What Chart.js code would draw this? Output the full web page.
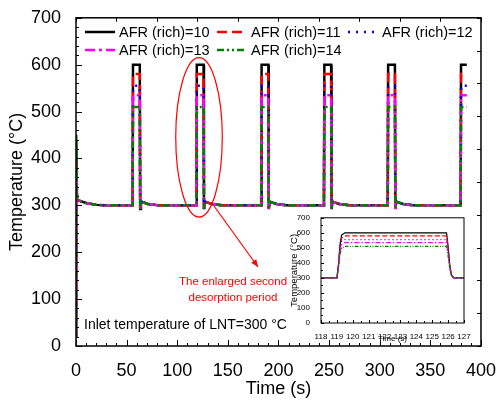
<!DOCTYPE html>
<html>
<head>
<meta charset="utf-8">
<script src="https://cdn.jsdelivr.net/npm/chart.js@4"></script>
<style>
  body { margin: 0; background: #fff; }
  #wrap { position: relative; width: 502px; height: 401px; }
  #main { position: absolute; left: 0; top: 0; }
  #inset { position: absolute; left: 283px; top: 210px; }
</style>
</head>
<body>
<div id="wrap">
  <canvas id="main" width="502" height="401"></canvas>
  <canvas id="inset" width="190" height="136"></canvas>
</div>
<script>
// main chart data
const seriesLabels = ['AFR (rich)=10', 'AFR (rich)=11', 'AFR (rich)=12', 'AFR (rich)=13', 'AFR (rich)=14'];

const timeS = [0, 0.3, 1, 3, 10, 20, 30,
  55.9, 56.3, 63, 63.4, 64.2, 71, 81,
  118.9, 119.3, 126, 126.4, 127.2, 134, 144,
  182.9, 183.3, 190, 190.4, 191.2, 198, 208,
  244.9, 245.3, 252, 252.4, 253.2, 260, 270,
  307.9, 308.3, 315, 315.4, 316.2, 323, 333,
  379.9, 380.3, 386];

const afr10 = [20, 440, 312, 310, 305, 301, 300,
  300, 600, 600, 292, 308, 303, 300,
  300, 600, 600, 292, 308, 303, 300,
  300, 600, 600, 292, 308, 303, 300,
  300, 600, 600, 292, 308, 303, 300,
  300, 600, 600, 292, 308, 303, 300,
  300, 600, 600];
const afr11 = [20, 395, 312, 310, 305, 301, 300,
  300, 580, 580, 292, 308, 303, 300,
  300, 580, 580, 292, 308, 303, 300,
  300, 580, 580, 292, 308, 303, 300,
  300, 580, 580, 292, 308, 303, 300,
  300, 580, 580, 292, 308, 303, 300,
  300, 580, 580];
const afr12 = [20, 360, 312, 310, 305, 301, 300,
  300, 555, 555, 292, 308, 303, 300,
  300, 555, 555, 292, 308, 303, 300,
  300, 555, 555, 292, 308, 303, 300,
  300, 555, 555, 292, 308, 303, 300,
  300, 555, 555, 292, 308, 303, 300,
  300, 555, 555];
const afr13 = [20, 380, 312, 310, 305, 301, 300,
  300, 535, 535, 292, 308, 303, 300,
  300, 535, 535, 292, 308, 303, 300,
  300, 535, 535, 292, 308, 303, 300,
  300, 535, 535, 292, 308, 303, 300,
  300, 535, 535, 292, 308, 303, 300,
  300, 535, 535];
const afr14 = [20, 450, 312, 310, 305, 301, 300,
  300, 510, 510, 292, 308, 303, 300,
  300, 510, 510, 292, 308, 303, 300,
  300, 510, 510, 292, 308, 303, 300,
  300, 510, 510, 292, 308, 303, 300,
  300, 510, 510, 292, 308, 303, 300,
  300, 510, 510];

// inset: second desorption period, enlarged
const insetTimeS = [118, 119.0, 119.1, 119.2, 119.3, 119.5, 125.9, 126.0, 126.1, 126.2, 126.35, 127];
const insetAfr10 = [300, 300, 390, 525, 585, 600, 600, 510, 390, 324, 300, 300];
const insetAfr11 = [300, 300, 384, 510, 566, 580, 580, 496, 384, 322, 300, 300];
const insetAfr12 = [300, 300, 377, 491, 542, 555, 555, 479, 377, 320, 300, 300];
const insetAfr13 = [300, 300, 371, 476, 523, 535, 535, 465, 371, 319, 300, 300];
const insetAfr14 = [300, 300, 363, 458, 500, 510, 510, 447, 363, 317, 300, 300];

const FONT = '"Liberation Sans", Arial, sans-serif';

const styles = [
  { color: '#000000', dash: [] },
  { color: '#ff0000', dash: [10, 5] },
  { color: '#0000ff', dash: [2, 6] },
  { color: '#ff00ff', dash: [10, 4, 3, 4] },
  { color: '#008000', dash: [7, 3, 2, 3, 2, 3] }
];

function makeSets(xs, ys, width, dashScale) {
  return ys.map((vals, i) => ({
    label: seriesLabels[i],
    data: vals.map((v, j) => ({ x: xs[j], y: v })),
    borderColor: styles[i].color,
    borderWidth: width,
    borderDash: styles[i].dash.map(d => d * dashScale),
    pointRadius: 0,
    tension: 0,
    fill: false,
    order: 5 - i
  }));
}

// frame and inward tick marks, placed through the scales
function drawFrame(chart, cfg) {
  const ctx = chart.ctx;
  const a = chart.chartArea;
  const xs = chart.scales.x, ys = chart.scales.y;
  ctx.save();
  ctx.strokeStyle = '#000';
  ctx.lineWidth = cfg.frameWidth;
  ctx.strokeRect(a.left, a.top, a.right - a.left, a.bottom - a.top);
  ctx.lineWidth = 1;
  ctx.beginPath();
  for (let v = xs.min; v <= xs.max + 1e-6; v += cfg.xMinor) {
    const px = Math.round(xs.getPixelForValue(v)) + 0.5;
    const major = Math.abs(v / cfg.xMajor - Math.round(v / cfg.xMajor)) < 1e-6;
    const len = major ? cfg.majorLen : cfg.minorLen;
    ctx.moveTo(px, a.bottom); ctx.lineTo(px, a.bottom - len);
  }
  for (let v = ys.min; v <= ys.max + 1e-6; v += cfg.yMinor) {
    const py = Math.round(ys.getPixelForValue(v)) + 0.5;
    const major = Math.abs(v / cfg.yMajor - Math.round(v / cfg.yMajor)) < 1e-6;
    const len = major ? cfg.majorLen : cfg.minorLen;
    ctx.moveTo(a.left, py); ctx.lineTo(a.left + len, py);
  }
  if (cfg.topStep) {
    for (let v = xs.min; v <= xs.max + 1e-6; v += cfg.topStep) {
      const px = Math.round(xs.getPixelForValue(v)) + 0.5;
      ctx.moveTo(px, a.top); ctx.lineTo(px, a.top + cfg.edgeLen);
    }
  }
  if (cfg.rightStep) {
    for (let v = ys.min; v <= ys.max + 1e-6; v += cfg.rightStep) {
      const py = Math.round(ys.getPixelForValue(v)) + 0.5;
      ctx.moveTo(a.right, py); ctx.lineTo(a.right - cfg.edgeLen, py);
    }
  }
  ctx.stroke();
  ctx.restore();
}

const mainDecor = {
  id: 'mainDecor',
  afterDraw(chart) {
    drawFrame(chart, { frameWidth: 1.5, xMajor: 50, xMinor: 10, yMajor: 100, yMinor: 20,
      majorLen: 6, minorLen: 3, topStep: 40, rightStep: 70, edgeLen: 4 });
    const ctx = chart.ctx;
    const xs = chart.scales.x, ys = chart.scales.y;

    // legend inside the plot
    ctx.save();
    ctx.font = '14.5px ' + FONT;
    ctx.textBaseline = 'middle';
    const slots = [[85, 32], [217, 32], [348, 32], [85, 50], [217, 50]];
    slots.forEach(([x, y], i) => {
      ctx.strokeStyle = styles[i].color;
      ctx.lineWidth = 2.5;
      ctx.setLineDash(styles[i].dash);
      ctx.beginPath();
      ctx.moveTo(x, y); ctx.lineTo(x + 30, y);
      ctx.stroke();
      ctx.setLineDash([]);
      ctx.fillStyle = '#000';
      ctx.fillText(seriesLabels[i], x + 34, y + 1);
    });

    // red ellipse around the second desorption period, with arrow
    const cx = xs.getPixelForValue(121.5), cy = ys.getPixelForValue(445);
    const rx = xs.getPixelForValue(121.5 + 23) - cx;
    const ry = cy - ys.getPixelForValue(445 + 170);
    ctx.strokeStyle = '#ff0000';
    ctx.lineWidth = 1.2;
    ctx.beginPath();
    ctx.ellipse(cx, cy, rx, ry, 0, 0, Math.PI * 2);
    ctx.stroke();
    const x0 = 214, y0 = 206, x1 = 258, y1 = 267;
    ctx.beginPath();
    ctx.moveTo(x0, y0); ctx.lineTo(x1, y1);
    ctx.stroke();
    const ang = Math.atan2(y1 - y0, x1 - x0);
    ctx.fillStyle = '#ff0000';
    ctx.beginPath();
    ctx.moveTo(x1, y1);
    ctx.lineTo(x1 - 8 * Math.cos(ang - 0.4), y1 - 8 * Math.sin(ang - 0.4));
    ctx.lineTo(x1 - 8 * Math.cos(ang + 0.4), y1 - 8 * Math.sin(ang + 0.4));
    ctx.closePath();
    ctx.fill();

    ctx.font = '11.5px ' + FONT;
    ctx.textAlign = 'center';
    ctx.fillText('The enlarged second', 233, 282);
    ctx.fillText('desorption period', 233, 298);

    ctx.fillStyle = '#000';
    ctx.textAlign = 'left';
    ctx.font = '14px ' + FONT;
    ctx.fillText('Inlet temperature of LNT=300 \u00B0C', 84, 325);
    ctx.restore();
  }
};

new Chart(document.getElementById('main'), {
  type: 'line',
  data: { datasets: makeSets(timeS, [afr10, afr11, afr12, afr13, afr14], 2.5, 1) },
  options: {
    responsive: false,
    animation: false,
    events: [],
    layout: { padding: { left: 0, right: 16, top: 17, bottom: 0 } },
    plugins: { legend: { display: false }, tooltip: { enabled: false } },
    scales: {
      x: {
        type: 'linear', min: 0, max: 400,
        grid: { display: false }, border: { display: false },
        ticks: { stepSize: 50, color: '#000', padding: 6, maxRotation: 0, font: { family: FONT, size: 18 } },
        title: { display: true, text: 'Time (s)', color: '#000', padding: { top: 0, bottom: 1 }, font: { family: FONT, size: 18 } },
        afterFit: s => { s.height = 55; }
      },
      y: {
        type: 'linear', min: 0, max: 700,
        grid: { display: false }, border: { display: false },
        ticks: { stepSize: 100, color: '#000', padding: 7, font: { family: FONT, size: 18 } },
        title: { display: true, text: 'Temperature (\u00B0C)', color: '#000', padding: { top: 6, bottom: 0 }, font: { family: FONT, size: 18 } },
        afterFit: s => { s.width = 76; }
      }
    }
  },
  plugins: [mainDecor]
});

const insetDecor = {
  id: 'insetDecor',
  beforeDraw(chart) {
    const a = chart.chartArea;
    chart.ctx.save();
    chart.ctx.fillStyle = '#fff';
    chart.ctx.fillRect(a.left, a.top, a.right - a.left, a.bottom - a.top);
    chart.ctx.restore();
  },
  afterDraw(chart) {
    drawFrame(chart, { frameWidth: 1, xMajor: 1, xMinor: 0.5, yMajor: 100, yMinor: 50,
      majorLen: 3, minorLen: 2, topStep: 0, rightStep: 0, edgeLen: 0 });
  }
};

new Chart(document.getElementById('inset'), {
  type: 'line',
  data: { datasets: makeSets(insetTimeS, [insetAfr10, insetAfr11, insetAfr12, insetAfr13, insetAfr14], 1.2, 0.5) },
  options: {
    responsive: false,
    animation: false,
    events: [],
    layout: { padding: { left: 0, right: 9, top: 7, bottom: 0 } },
    plugins: { legend: { display: false }, tooltip: { enabled: false } },
    scales: {
      x: {
        type: 'linear', min: 118, max: 127,
        grid: { display: false }, border: { display: false },
        ticks: { stepSize: 1, color: '#000', padding: 1, maxRotation: 0, autoSkip: false, font: { family: FONT, size: 8 } },
        title: { display: true, text: 'Time (s)', color: '#000', padding: { top: 0, bottom: 2 }, font: { family: FONT, size: 8 } },
        afterFit: s => { s.height = 23; }
      },
      y: {
        type: 'linear', min: 0, max: 700,
        grid: { display: false }, border: { display: false },
        ticks: { stepSize: 100, color: '#000', padding: 3, font: { family: FONT, size: 8 } },
        title: { display: true, text: 'Temperature (\u00B0C)', color: '#000', padding: { top: 6, bottom: 0 }, font: { family: FONT, size: 9.5 } },
        afterFit: s => { s.width = 38; }
      }
    }
  },
  plugins: [insetDecor]
});
</script>
</body>
</html>
